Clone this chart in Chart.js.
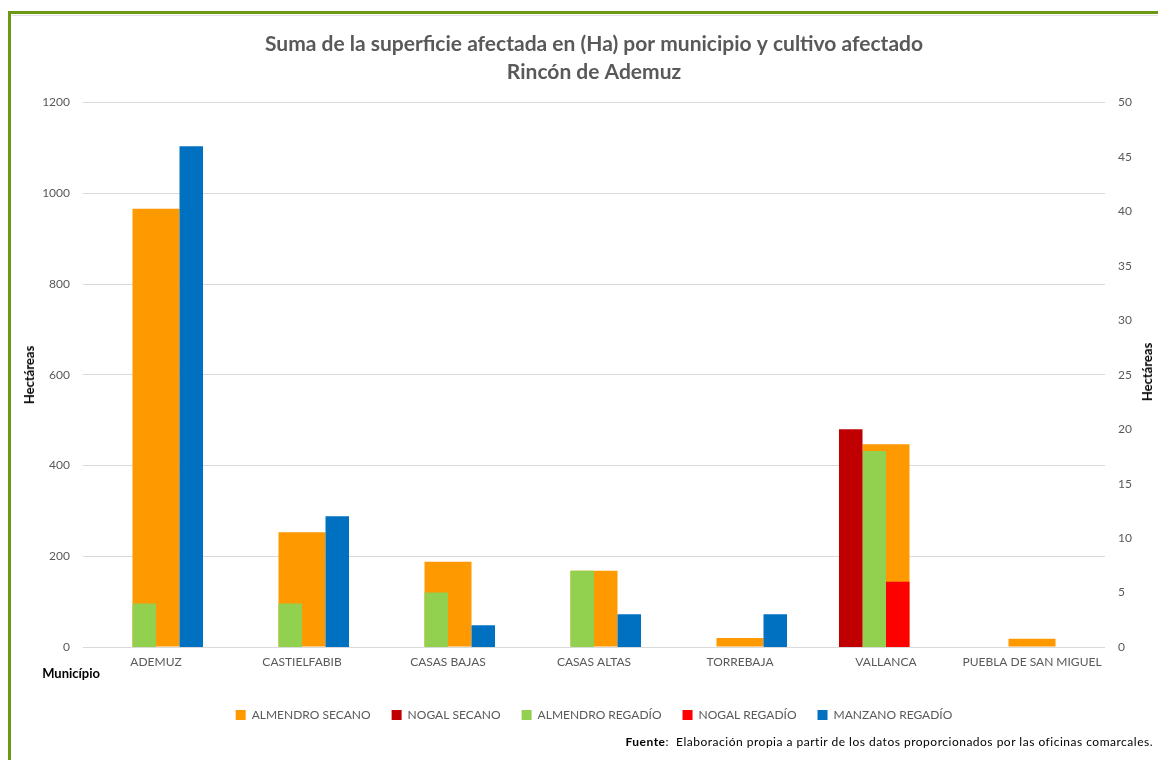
<!DOCTYPE html>
<html lang="es">
<head>
<meta charset="utf-8">
<title>Suma de la superficie afectada en (Ha) por municipio y cultivo afectado</title>
<script src="https://cdn.jsdelivr.net/npm/chart.js@4.4.1/dist/chart.umd.min.js"></script>
<style>
  html, body { margin: 0; padding: 0; background: #ffffff; }
  #wrap { position: relative; width: 1158px; height: 760px; overflow: hidden; font-family: Lato, "Open Sans", sans-serif; }
  #frame { position: absolute; left: 8px; top: 11px; width: 1300px; height: 900px;
           border-left: 3px solid #6a9a14; border-top: 3px solid #6a9a14; box-sizing: border-box; }
  #inner { position: absolute; left: 12px; top: 15px; width: 1300px; height: 1px; background: #e4e4e4; }
  #chartBox { position: absolute; left: 0; top: 0; width: 1158px; height: 760px; }
  .axt { position: absolute; font-weight: bold; font-size: 13px; color: #000; white-space: nowrap; }
  #yl { left: 29px; top: 375px; transform: translate(-50%, -50%) rotate(-90deg); }
  #yr { left: 1147px; top: 372px; transform: translate(-50%, -50%) rotate(-90deg); }
  #xt { right: 1058px; top: 665px; }
  #src { position: absolute; right: 5px; top: 734px; font-size: 12px; letter-spacing: 0.5px; color: #000; white-space: nowrap; }
</style>
</head>
<body>
<div id="wrap">
  <div id="frame"></div>
  <div id="inner"></div>
  <div id="chartBox"><canvas id="c"></canvas></div>
  <div class="axt" id="yl">Hectáreas</div>
  <div class="axt" id="yr">Hectáreas</div>
  <div class="axt" id="xt">Município</div>
  <div id="src"><b>Fuente</b>:&nbsp; Elaboración propia a partir de los datos proporcionados por las oficinas comarcales.</div>
</div>
<script>
// ---- data ----
const municipios = ['ADEMUZ', 'CASTIELFABIB', 'CASAS BAJAS', 'CASAS ALTAS', 'TORREBAJA', 'VALLANCA', 'PUEBLA DE SAN MIGUEL'];
const almendroSecano  = [966, 253, 188, 168, 20, 447, 18];   // eje izquierdo
const nogalSecano     = [0, 0, 0, 0, 0, 20, 0];              // eje derecho
const almendroRegadio = [4, 4, 5, 7, 0, 18, 0];              // eje derecho
const nogalRegadio    = [0, 0, 0, 0, 0, 6, 0];               // eje derecho
const manzanoRegadio  = [46, 12, 2, 3, 3, 0, 0];             // eje derecho
const leftTicks  = { min: 0, max: 1200, step: 200 };
const rightTicks = { min: 0, max: 50, step: 5 };

const FONT = 'Lato, "Open Sans", sans-serif';
const TICK = '#595959';

const secondary = (label, data, color) => ({
  label, data, backgroundColor: color, borderWidth: 0,
  yAxisID: 'y1', order: 0, categoryPercentage: 0.644, barPercentage: 1
});

new Chart(document.getElementById('c'), {
  type: 'bar',
  data: {
    labels: municipios,
    datasets: [
      { label: 'ALMENDRO SECANO', data: almendroSecano, backgroundColor: '#ff9900', borderWidth: 0,
        yAxisID: 'y', order: 1, grouped: false, categoryPercentage: 0.322, barPercentage: 1 },
      secondary('NOGAL SECANO', nogalSecano, '#c00000'),
      secondary('ALMENDRO REGADÍO', almendroRegadio, '#92d050'),
      secondary('NOGAL REGADÍO', nogalRegadio, '#ff0000'),
      secondary('MANZANO REGADÍO', manzanoRegadio, '#0070c0')
    ]
  },
  options: {
    responsive: true,
    maintainAspectRatio: false,
    animation: false,
    layout: { padding: { left: 30, right: 0, top: 0, bottom: 29 } },
    plugins: {
      title: {
        display: true,
        text: ['Suma de la superficie afectada en (Ha) por municipio y cultivo afectado', 'Rincón de Ademuz'],
        color: TICK,
        font: { family: FONT, size: 21, weight: 'bold', lineHeight: 1.3 },
        padding: { top: 31, bottom: 17 }
      },
      legend: {
        position: 'bottom',
        labels: {
          boxWidth: 10, boxHeight: 10, padding: 21, color: TICK,
          font: { family: FONT, size: 12 },
          sort: (a, b) => a.datasetIndex - b.datasetIndex
        }
      },
      tooltip: { enabled: false }
    },
    scales: {
      x: {
        grid: { display: false, drawTicks: false },
        border: { display: false },
        ticks: { color: TICK, font: { family: FONT, size: 12 }, padding: 8, maxRotation: 0, autoSkip: false },
        afterFit: (s) => { s.height = 41; }
      },
      y: {
        position: 'left',
        min: leftTicks.min, max: leftTicks.max,
        ticks: { stepSize: leftTicks.step, color: TICK, font: { family: FONT, size: 12 }, padding: 13,
                 callback: (v) => String(v) },
        grid: { color: '#d9d9d9', drawTicks: false },
        border: { display: false },
        afterFit: (s) => { s.width = 53; }
      },
      y1: {
        position: 'right',
        min: rightTicks.min, max: rightTicks.max,
        ticks: { stepSize: rightTicks.step, color: TICK, font: { family: FONT, size: 12 }, padding: 13,
                 callback: (v) => String(v) },
        grid: { display: false, drawTicks: false },
        border: { display: false },
        afterFit: (s) => { s.width = 53; }
      }
    }
  }
});
</script>
</body>
</html>
